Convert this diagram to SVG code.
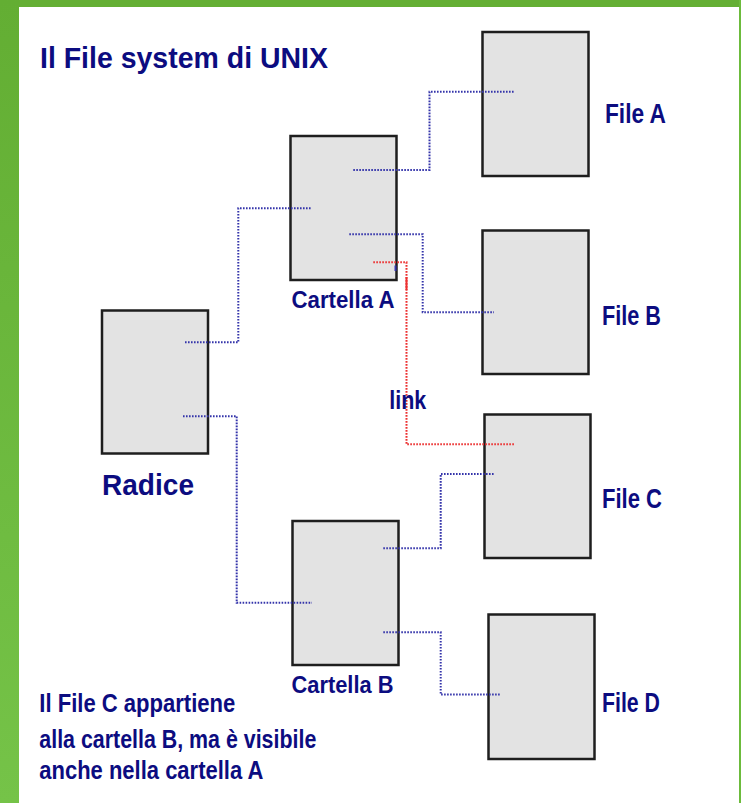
<svg xmlns="http://www.w3.org/2000/svg" width="741" height="803" viewBox="0 0 741 803">
<defs>
<linearGradient id="gl" x1="0" y1="0" x2="0" y2="1">
<stop offset="0" stop-color="#63ae33"/>
<stop offset="1" stop-color="#75c348"/>
</linearGradient>
</defs>
<style>
.box{fill:#e3e3e3;stroke:#1e1e1e;stroke-width:2.5}
.t{font-family:"Liberation Sans",Arial,sans-serif;font-weight:bold;fill:#0c0c80}
.c{fill:none;stroke:#3434aa;stroke-width:2;stroke-dasharray:1.6 1.4}
.r{fill:none;stroke:#ec3030;stroke-width:2;stroke-dasharray:1.6 1.4}
</style>
<rect x="0" y="0" width="741" height="803" fill="#fff"/>
<rect x="0" y="0" width="741" height="7" fill="#64af34"/>
<rect x="0" y="0" width="19" height="803" fill="url(#gl)"/>
<rect x="739" y="0" width="2" height="803" fill="#6cbb3c"/>
<text class="t" x="40" y="68" font-size="29" textLength="288" lengthAdjust="spacingAndGlyphs">Il File system di UNIX</text>
<g id="radice">
<rect class="box" x="102" y="310.5" width="106" height="143"/>
<text class="t" x="102" y="495" font-size="30" textLength="92" lengthAdjust="spacingAndGlyphs">Radice</text>
</g>
<g id="cartellaA">
<rect class="box" x="290.5" y="136" width="106" height="144"/>
<text class="t" x="291.5" y="308" font-size="23.5" textLength="103" lengthAdjust="spacingAndGlyphs">Cartella A</text>
</g>
<g id="cartellaB">
<rect class="box" x="292.5" y="521" width="106" height="144"/>
<text class="t" x="291.5" y="693" font-size="23.5" textLength="102" lengthAdjust="spacingAndGlyphs">Cartella B</text>
</g>
<g id="fileA">
<rect class="box" x="482.5" y="32" width="106" height="144"/>
<text class="t" x="605" y="123" font-size="27" textLength="61" lengthAdjust="spacingAndGlyphs">File A</text>
</g>
<g id="fileB">
<rect class="box" x="482.5" y="230.5" width="106" height="143.5"/>
<text class="t" x="602" y="325" font-size="27" textLength="59" lengthAdjust="spacingAndGlyphs">File B</text>
</g>
<g id="fileC">
<rect class="box" x="484.5" y="414.5" width="106" height="143.5"/>
<text class="t" x="602" y="507.5" font-size="27" textLength="60" lengthAdjust="spacingAndGlyphs">File C</text>
</g>
<g id="fileD">
<rect class="box" x="488.5" y="614.5" width="106" height="144.5"/>
<text class="t" x="602" y="711.5" font-size="27" textLength="58" lengthAdjust="spacingAndGlyphs">File D</text>
</g>
<g id="connectors">
<path class="c" d="M185,342.3 H238.3 V208.3 H312"/>
<path class="c" d="M183,416.3 H236.7 V602.7 H312"/>
<path class="c" d="M353.3,170 H429.5 V91.7 H514"/>
<path class="c" d="M349.3,234.3 H422.7 V312.3 H494"/>
<path class="c" d="M383.3,548.3 H440.7 V474 H494"/>
<path class="c" d="M383.3,632.3 H440.7 V694.5 H500"/>
<line x1="395.5" y1="265.5" x2="395.5" y2="271" stroke="#3434aa" stroke-width="2"/>
<path class="r" d="M373.3,262.3 H406.5 V444.3 H514"/>
<line x1="406.5" y1="277" x2="406.5" y2="290" stroke="#ec3030" stroke-width="2"/>
<text class="t" x="389.3" y="409.3" font-size="26" textLength="37" lengthAdjust="spacingAndGlyphs">link</text>
</g>
<g id="nota">
<text class="t" x="39.3" y="711.7" font-size="25" textLength="196" lengthAdjust="spacingAndGlyphs">Il File C appartiene</text>
<text class="t" x="39.3" y="748.3" font-size="25" textLength="277" lengthAdjust="spacingAndGlyphs">alla cartella B, ma è visibile</text>
<text class="t" x="39.3" y="779" font-size="25" textLength="224" lengthAdjust="spacingAndGlyphs">anche nella cartella A</text>
</g>
</svg>
